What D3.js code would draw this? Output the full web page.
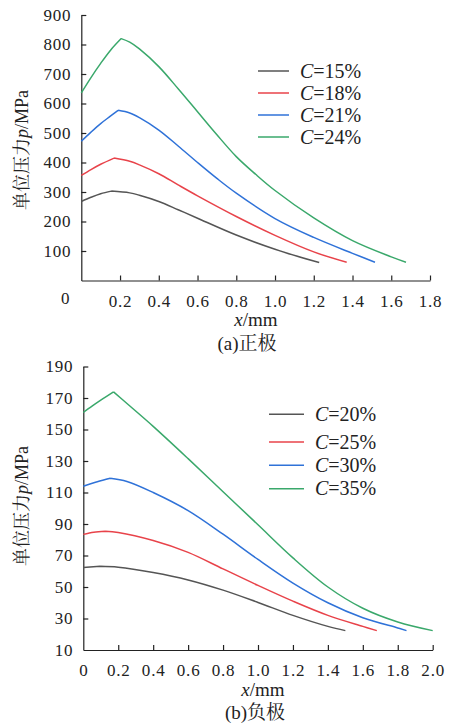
<!DOCTYPE html>
<html>
<head>
<meta charset="utf-8">
<script src="https://cdnjs.cloudflare.com/ajax/libs/d3/7.8.5/d3.min.js"></script>
</head>
<body style="margin:0;background:#fff">
<svg width="451" height="724"></svg>
<script>
// (a) 正极 : x in mm, p in MPa
var posLabels = ["15%", "18%", "21%", "24%"];
var pos15 = [[0,268],[0.05,282],[0.1,294],[0.155,303],[0.25,297],[0.3,289],[0.4,268],[0.5,240],[0.6,211],[0.8,154],[1.0,106],[1.2,66],[1.228,61]];
var pos18 = [[0,356],[0.05,376],[0.1,394],[0.169,415],[0.25,404],[0.3,392],[0.4,362],[0.5,324],[0.6,287],[0.8,217],[1.0,153],[1.2,97],[1.37,62]];
var pos21 = [[0,472],[0.05,503],[0.1,532],[0.15,557],[0.19,577],[0.25,568],[0.3,552],[0.4,510],[0.5,456],[0.6,400],[0.7,346],[0.8,296],[1.0,210],[1.2,146],[1.4,92],[1.516,62]];
var pos24 = [[0,636],[0.05,688],[0.1,736],[0.15,780],[0.206,820],[0.25,808],[0.3,785],[0.4,725],[0.5,650],[0.6,572],[0.7,494],[0.8,420],[0.9,360],[1.0,305],[1.2,212],[1.4,135],[1.6,80],[1.676,62]];
var posXTicks = [0.2, 0.4, 0.6, 0.8, 1.0, 1.2, 1.4, 1.6, 1.8];
var posYTicks = [100, 200, 300, 400, 500, 600, 700, 800, 900];

// (b) 负极
var negLabels = ["20%", "25%", "30%", "35%"];
var neg20 = [[0,62.4],[0.096,63.2],[0.2,62.6],[0.4,59.2],[0.6,54.5],[0.8,48],[1.0,40.2],[1.2,32],[1.4,25],[1.5,22.3]];
var neg25 = [[0,83.4],[0.06,84.8],[0.126,85.4],[0.2,84.6],[0.4,79.5],[0.6,72],[0.8,61.5],[1.0,51],[1.2,41],[1.4,32],[1.6,25],[1.68,22.3]];
var neg30 = [[0,114],[0.08,116.8],[0.154,119],[0.25,117],[0.4,110],[0.6,98.5],[0.8,83.5],[1.0,67.5],[1.2,52.5],[1.4,40],[1.6,30.5],[1.8,24],[1.85,22.3]];
var neg35 = [[0,160.8],[0.05,164.8],[0.1,168.6],[0.173,173.9],[0.25,166.5],[0.4,152],[0.6,131.5],[0.8,110.5],[1.0,89.5],[1.2,68.5],[1.4,50],[1.6,36.5],[1.8,27.8],[2.0,22.3]];
var negXTicks = [0, 0.2, 0.4, 0.6, 0.8, 1.0, 1.2, 1.4, 1.6, 1.8, 2.0];
var negYTicks = [10, 30, 50, 70, 90, 110, 130, 150, 170, 190];

var colors = ["#555555", "#e8434a", "#2f72d8", "#3aa86b"];
var SERIF = "Liberation Serif";
var CJK = "Liberation Serif, Noto Serif CJK SC, Noto Sans CJK SC";
var INK = "#222";

var svg = d3.select("svg");

function drawPanel(p) {
  var x = d3.scaleLinear().domain(p.xDomain).range(p.xRange);
  var y = d3.scaleLinear().domain(p.yDomain).range(p.yRange);
  var g = svg.append("g");

  var xAxis = g.append("g")
      .attr("transform", "translate(0," + p.yRange[0] + ")")
      .call(d3.axisBottom(x).tickValues(p.xTicks).tickSize(-5).tickSizeOuter(0)
        .tickFormat(function(d) { return d === 0 ? "0" : d3.format(".1f")(d); }));
  var yAxis = g.append("g")
      .attr("transform", "translate(" + p.xRange[0] + ",0)")
      .call(d3.axisLeft(y).tickValues(p.yTicks).tickSize(-5).tickSizeOuter(0));

  [xAxis, yAxis].forEach(function(a) {
    a.attr("font-family", SERIF).attr("font-size", 17);
    a.selectAll("path, line").attr("stroke", INK).attr("stroke-width", 1.2);
    a.selectAll("text").attr("fill", INK).attr("font-family", SERIF)
      .style("letter-spacing", "0.8px");
  });
  xAxis.selectAll("text").attr("y", 14);
  yAxis.selectAll("text").attr("x", -10);
  yAxis.selectAll(".tick").filter(function(d) { return d === p.yDomain[0]; }).select("line").remove();
  xAxis.selectAll(".tick").filter(function(d) { return d === p.xDomain[0]; }).select("line").remove();

  if (p.originLabel) {
    g.append("text").attr("x", x(0) - 16).attr("y", p.yRange[0] + 23)
      .attr("text-anchor", "middle").attr("font-size", 17)
      .attr("font-family", SERIF).attr("fill", INK).text("0");
  }

  // each curve: rising part + falling part, so the peak keeps its corner
  var line = d3.line().x(function(d) { return x(d[0]); }).y(function(d) { return y(d[1]); })
      .curve(d3.curveCatmullRom.alpha(0.5));
  function pathOf(s) {
    var k = d3.maxIndex(s, function(d) { return d[1]; });
    return line(s.slice(0, k + 1)) + line(s.slice(k));
  }
  g.selectAll(".curve").data(p.series).enter().append("path")
      .attr("class", "curve")
      .attr("fill", "none").attr("stroke-width", 1.5)
      .attr("stroke-linejoin", "round")
      .attr("stroke", function(d, i) { return colors[i]; })
      .attr("d", pathOf);

  // legend
  var leg = g.selectAll(".leg").data(p.labels).enter().append("g")
      .attr("transform", function(d, i) { return "translate(" + p.legX + "," + p.legY[i] + ")"; });
  leg.append("line").attr("x1", 0).attr("x2", p.legW).attr("y1", 0).attr("y2", 0)
      .attr("stroke", function(d, i) { return colors[i]; }).attr("stroke-width", 1.5);
  var lt = leg.append("text").attr("x", p.legW + 11).attr("y", 6.5)
      .attr("font-size", 20).attr("font-family", SERIF).attr("fill", INK);
  lt.append("tspan").attr("font-style", "italic").text("C");
  lt.append("tspan").text(function(d) { return "=" + d; });

  // axis titles
  var yt = g.append("text").attr("font-family", CJK).attr("font-size", 18).attr("fill", INK)
      .attr("text-anchor", "middle")
      .attr("transform", "translate(" + p.yTitle[0] + "," + p.yTitle[1] + ") rotate(-90)");
  yt.append("tspan").text("单位压力");
  yt.append("tspan").attr("font-style", "italic").text("p");
  yt.append("tspan").text("/MPa");

  var xt = g.append("text").attr("font-size", 19).attr("text-anchor", "middle")
      .attr("font-family", SERIF).attr("fill", INK)
      .attr("x", p.xTitle[0]).attr("y", p.xTitle[1]);
  xt.append("tspan").attr("font-style", "italic").text("x");
  xt.append("tspan").text("/mm");

  g.append("text").attr("font-family", CJK).attr("font-size", 19).attr("fill", INK)
      .attr("text-anchor", "middle")
      .attr("x", p.caption[0]).attr("y", p.caption[1]).text(p.captionText);
}

drawPanel({
  xDomain: [0, 1.8], xRange: [81.3, 430],
  yDomain: [0, 900], yRange: [280.5, 15],
  xTicks: posXTicks, yTicks: posYTicks, originLabel: true,
  series: [pos15, pos18, pos21, pos24], labels: posLabels,
  legX: 258, legW: 31, legY: [71, 93, 115, 137],
  yTitle: [28, 150], xTitle: [256, 326], caption: [247, 350], captionText: "(a)正极"
});

drawPanel({
  xDomain: [0, 2.0], xRange: [83.3, 432.7],
  yDomain: [10, 190], yRange: [650, 366.5],
  xTicks: negXTicks, yTicks: negYTicks, originLabel: false,
  series: [neg20, neg25, neg30, neg35], labels: negLabels,
  legX: 269, legW: 35, legY: [414.3, 442, 465.3, 488.7],
  yTitle: [28, 506], xTitle: [263, 696], caption: [255, 719], captionText: "(b)负极"
});
</script>
</body>
</html>
